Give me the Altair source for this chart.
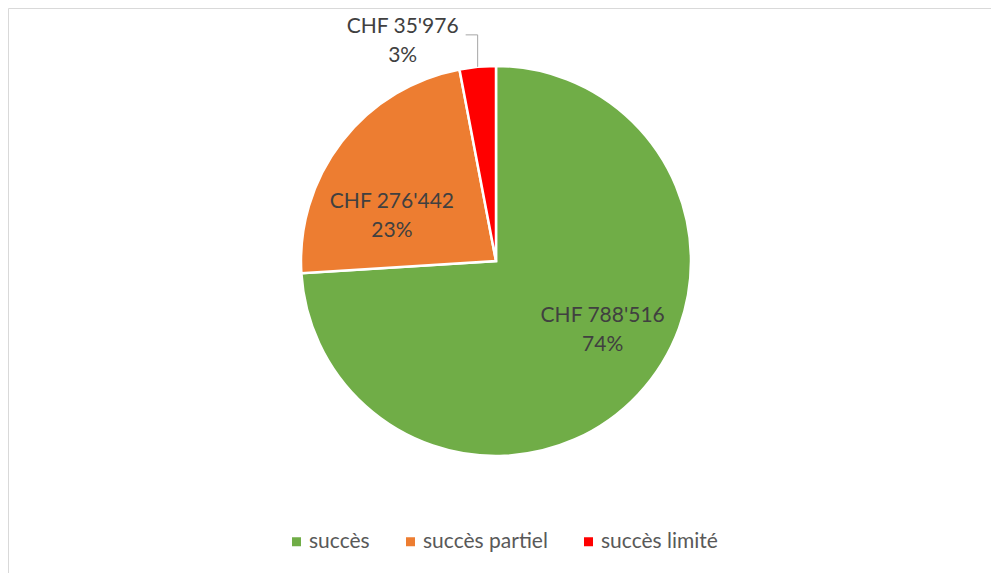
import altair as alt
import pandas as pd
import numpy as np

categories = ["succès", "succès partiel", "succès limité"]
amounts = ["CHF 788'516", "CHF 276'442", "CHF 35'976"]
percents = [74, 23, 3]
colors = ["#70ad47", "#ed7d31", "#ff0000"]

FONT = "Lato"
CX, CY, R = 488, 253, 195

df = pd.DataFrame({"cat": categories, "amount": amounts, "pct": percents, "idx": [0, 1, 2]})
df["label"] = df["amount"] + "\n" + df["pct"].astype(str) + "%"
df["inner"] = [df["label"][0], df["label"][1], ""]

# outside label for the small slice, positioned from its mid angle
cum = np.cumsum([0] + percents) / sum(percents) * 2 * np.pi
mid = (cum[2] + cum[3]) / 2
ex = CX + R * np.sin(mid)
ey = CY - R * np.cos(mid)
lead = pd.DataFrame({
    "x": [ex, ex - 12], "y": [ey, ey - 32],
    "x2": [ex, ex], "y2": [ey - 32, ey - 32],
})
outer = pd.DataFrame({"x": [ex - 75], "y": [ey - 39.5], "label": [df["label"][2]]})

color = alt.Color(
    "cat:N",
    scale=alt.Scale(domain=categories, range=colors),
    sort=categories,
    legend=alt.Legend(
        orient="none", legendX=278, legendY=523, direction="horizontal",
        title=None, symbolType="square", symbolSize=81, symbolStrokeWidth=0,
        labelFontSize=21, labelColor="#595959", labelFont=FONT,
        columnPadding=30, labelOffset=2, padding=0,
    ),
)

base = alt.Chart(df).encode(
    theta=alt.Theta("pct:Q", stack=True),
    order=alt.Order("idx:Q"),
    x=alt.value(CX),
    y=alt.value(CY),
)

arcs = base.mark_arc(outerRadius=R, stroke="white", strokeWidth=2.5).encode(color=color)

inner = base.mark_text(
    radius=120, thetaOffset=-0.21, font=FONT, fontSize=21, color="#404040",
    lineBreak="\n", lineHeight=29, align="center", baseline="middle",
    dx=4, dy=-7,
).encode(text="inner:N")

leader = alt.Chart(lead).mark_rule(color="#a6a6a6", strokeWidth=1).encode(
    x=alt.X("x:Q", scale=None, axis=None),
    y=alt.Y("y:Q", scale=None, axis=None),
    x2="x2:Q", y2="y2:Q",
)

outer_text = alt.Chart(outer).mark_text(
    font=FONT, fontSize=21, color="#404040",
    lineBreak="\n", lineHeight=29, align="center", baseline="middle",
).encode(
    x=alt.X("x:Q", scale=None, axis=None),
    y=alt.Y("y:Q", scale=None, axis=None),
    text="label:N",
)

chart = alt.layer(arcs, inner, leader, outer_text).properties(
    width=983, height=565, autosize="none", padding=0, background="white",
).configure_view(stroke="#d9d9d9", strokeWidth=1)

chart.save("out.html", embed_options={"renderer": "svg", "actions": False})
